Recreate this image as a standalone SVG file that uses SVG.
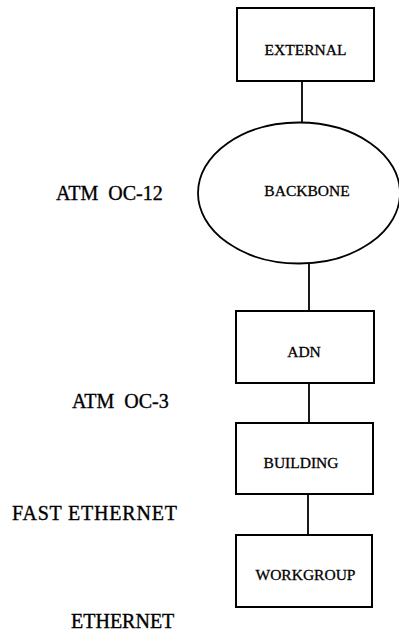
<svg xmlns="http://www.w3.org/2000/svg" width="399" height="634" viewBox="0 0 399 634">
<style>
.box{fill:#fff;stroke:#000;stroke-width:2}
.ell{fill:#fff;stroke:#000;stroke-width:1.8}
.ln{stroke:#000;stroke-width:1.8;fill:none}
.in{font-family:"Liberation Serif","Times New Roman",serif;font-size:15.5px;text-anchor:middle;fill:#000;stroke:#000;stroke-width:0.3}
.lab{font-family:"Liberation Serif","Times New Roman",serif;font-size:20px;fill:#000;stroke:#000;stroke-width:0.35;white-space:pre}
</style>
<rect width="399" height="634" fill="#fff"/>
<g id="connectors">
<line class="ln" x1="302" y1="81" x2="302" y2="123"/>
<line class="ln" x1="309" y1="263" x2="309" y2="311"/>
<line class="ln" x1="309" y1="383" x2="309" y2="423"/>
<line class="ln" x1="308" y1="494" x2="308" y2="535"/>
</g>
<g id="external">
<rect class="box" x="237" y="8" width="137" height="73"/>
<text class="in" x="305.5" y="55">EXTERNAL</text>
</g>
<g id="backbone">
<ellipse class="ell" cx="299" cy="193" rx="101" ry="70.5"/>
<text class="in" x="307" y="196">BACKBONE</text>
</g>
<g id="adn">
<rect class="box" x="236" y="311" width="138" height="72"/>
<text class="in" x="304" y="357">ADN</text>
</g>
<g id="building">
<rect class="box" x="236" y="423" width="137" height="71"/>
<text class="in" x="301" y="468">BUILDING</text>
</g>
<g id="workgroup">
<rect class="box" x="236" y="535" width="136" height="72"/>
<text class="in" x="305.5" y="580">WORKGROUP</text>
</g>
<g id="labels">
<text class="lab" x="56" y="200" xml:space="preserve">ATM  OC-12</text>
<text class="lab" x="72" y="408" xml:space="preserve">ATM  OC-3</text>
<text class="lab" x="12" y="520" textLength="165" lengthAdjust="spacing">FAST ETHERNET</text>
<text class="lab" x="71" y="628">ETHERNET</text>
</g>
</svg>
